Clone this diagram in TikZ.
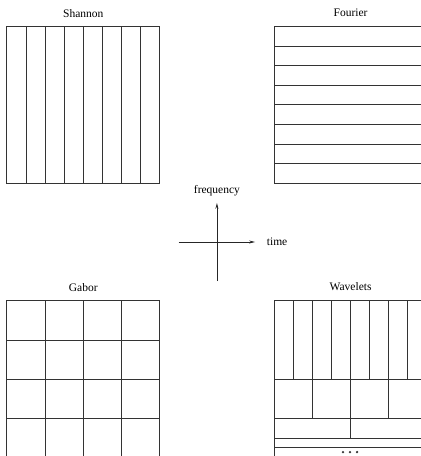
\documentclass[tikz,border=0pt]{standalone}
\usepackage{fontspec}
\setmainfont{Liberation Serif}
\usetikzlibrary{arrows.meta}

\begin{document}
\begin{tikzpicture}[
  x=19.1pt, y=19.6pt,
  every node/.style={font=\fontsize{11.5}{13}\selectfont,inner sep=2pt},
  tiling/.style={draw=black!80,line width=0.85pt},
  axis/.style={draw=black!85,line width=0.85pt,-{Stealth[length=6pt,width=3pt]}}
]
  \useasboundingbox (-11.36,-10.92) rectangle (10.68,12.35);
  \clip (-11.36,-10.92) rectangle (10.68,12.35);

  % time-frequency axes
  \coordinate (tleft) at (-2,0);
  \coordinate (tright) at (2,0);
  \coordinate (fbottom) at (0,-2);
  \coordinate (ftop) at (0,2);
  \draw[axis] (tleft) -- (tright);
  \draw[axis] (fbottom) -- (ftop);
  \node (freq) at (0,2.6) {frequency};
  \node (time) at (3.15,0) {time};

  % Shannon
  \node (shannon) at (-7,11.68) {Shannon};
  \draw[tiling] (-11,3) rectangle (-3,11);
  \foreach \x in {-10,...,-4}
    \draw[tiling] (\x,3) -- (\x,11);

  % Fourier
  \node (fourier) at (7,11.68) {Fourier};
  \draw[tiling] (3,3) rectangle (11,11);
  \foreach \y in {4,...,10}
    \draw[tiling] (3,\y) -- (11,\y);

  % Gabor
  \node (gabor) at (-7,-2.3) {Gabor};
  \draw[tiling] (-11,-11) rectangle (-3,-3);
  \foreach \x in {-9,-7,-5}
    \draw[tiling] (\x,-11) -- (\x,-3);
  \foreach \y in {-9,-7,-5}
    \draw[tiling] (-11,\y) -- (-3,\y);

  % Wavelets
  \node (wavelets) at (7,-2.3) {Wavelets};
  \draw[tiling] (3,-11) rectangle (11,-3);
  \foreach \x in {4,...,10}
    \draw[tiling] (\x,-3) -- (\x,-7);
  \draw[tiling] (3,-7) -- (11,-7);
  \foreach \x in {5,7,9}
    \draw[tiling] (\x,-7) -- (\x,-9);
  \draw[tiling] (3,-9) -- (11,-9);
  \draw[tiling] (7,-9) -- (7,-10);
  \draw[tiling] (3,-10) -- (11,-10);
  \draw[tiling] (3,-10.5) -- (11,-10.5);
  \foreach \x in {-1,0,1}
    \fill[black!80] (6.97+0.37*\x,-10.72) circle (1.3pt);
\end{tikzpicture}
\end{document}
